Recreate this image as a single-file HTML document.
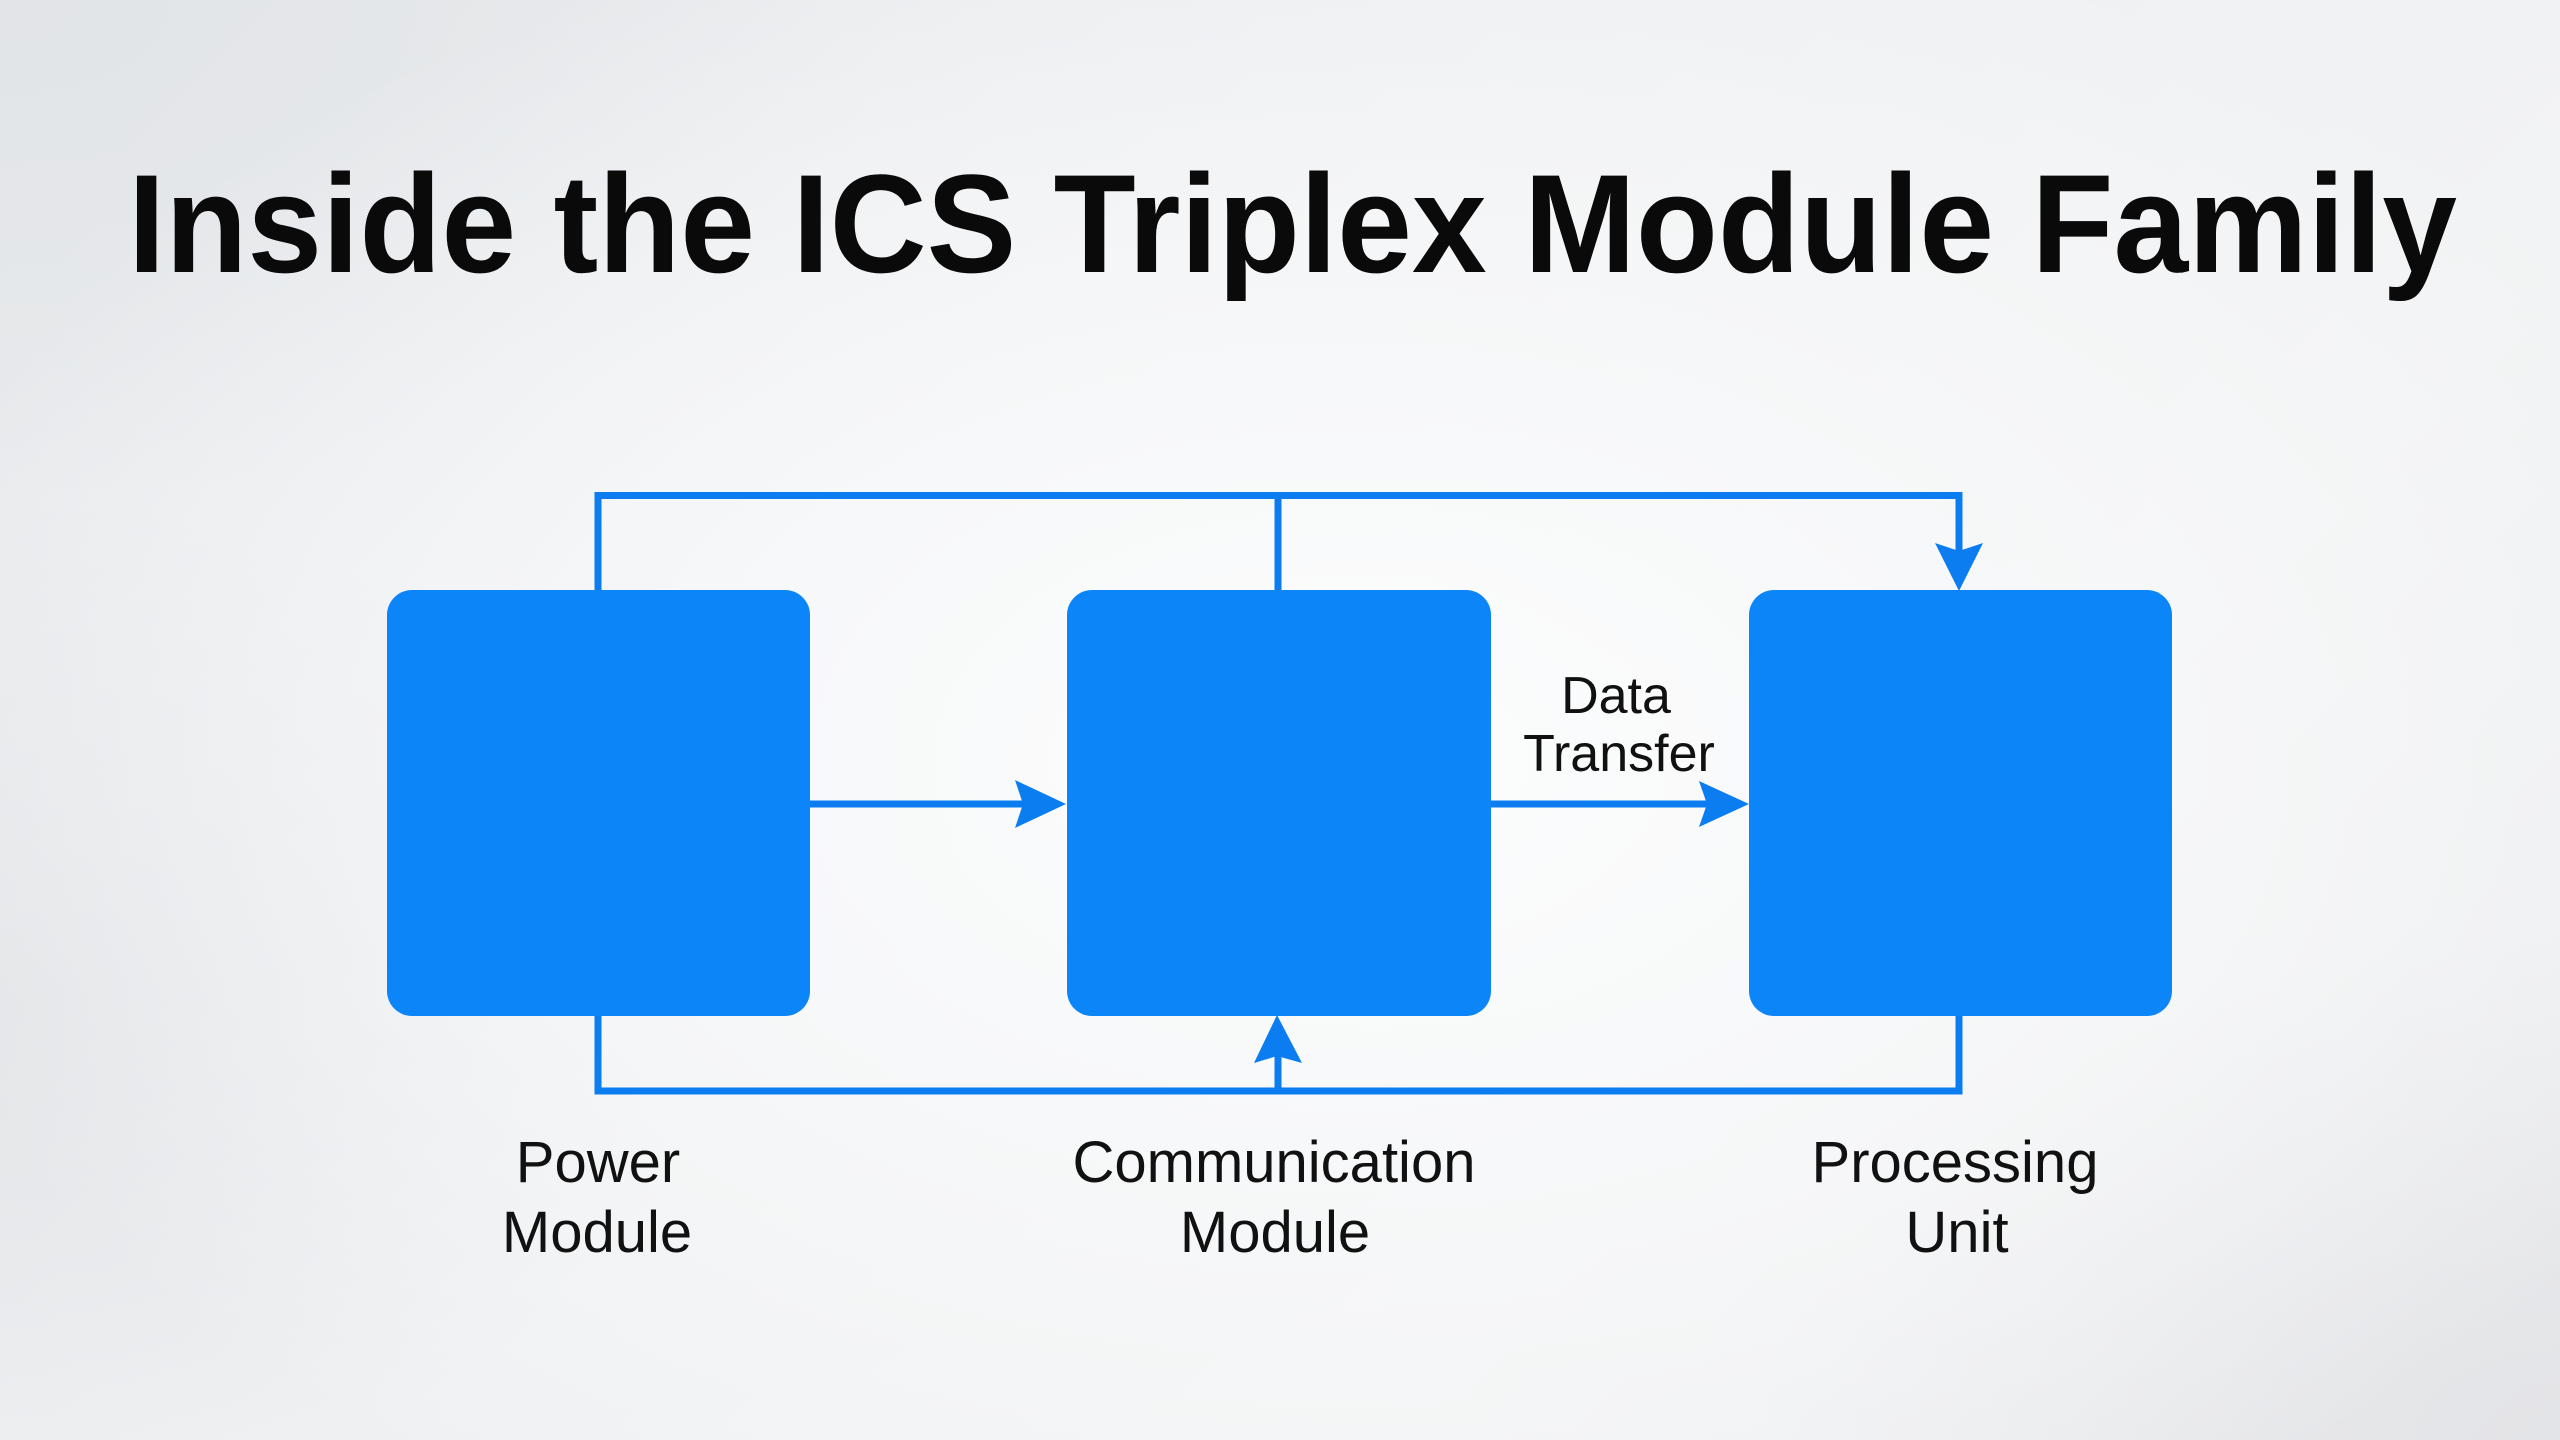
<!DOCTYPE html>
<html>
<head>
<meta charset="utf-8">
<style>
  html, body { margin: 0; padding: 0; }
  body {
    width: 2560px; height: 1440px; overflow: hidden;
    background:
      radial-gradient(ellipse 1500px 900px at 1350px 760px, rgba(252,253,253,1) 0%, rgba(248,249,250,0.85) 45%, rgba(248,249,250,0) 100%),
      radial-gradient(ellipse 700px 500px at 0px 1000px, rgba(226,228,231,0.9) 0%, rgba(226,228,231,0) 100%),
      radial-gradient(ellipse 900px 500px at 0px 0px, rgba(225,228,231,0.9) 0%, rgba(225,228,231,0) 100%),
      radial-gradient(ellipse 800px 500px at 2560px 1440px, rgba(226,227,230,0.9) 0%, rgba(226,227,230,0) 100%),
      linear-gradient(135deg, #e6e8eb 0%, #eef0f2 40%, #f2f3f4 70%, #eaebed 100%);
  }
  svg { display: block; }
</style>
</head>
<body>
<svg width="2560" height="1440" viewBox="0 0 2560 1440" xmlns="http://www.w3.org/2000/svg">
  <!-- Title -->
  <text x="128" y="272" font-family="Liberation Sans, Arial, sans-serif" font-weight="bold" font-size="140" fill="#0a0a0a" textLength="2329" lengthAdjust="spacingAndGlyphs">Inside the ICS Triplex Module Family</text>

  <!-- Connector lines -->
  <g fill="none" stroke="#0b7df1" stroke-width="7" stroke-linejoin="miter" stroke-linecap="butt">
    <path d="M598,592 V495.5 H1959 V570"/>
    <path d="M1278,495.5 V592"/>
    <path d="M598,1014 V1091 H1959 V1014"/>
    <path d="M1278,1091 V1035"/>
    <path d="M809,804 H1040"/>
    <path d="M1490,804 H1725"/>
  </g>

  <!-- Boxes -->
  <g fill="#0b85f7">
    <rect x="387" y="590" width="423" height="426" rx="25" ry="25"/>
    <rect x="1067" y="590" width="424" height="426" rx="25" ry="25"/>
    <rect x="1749" y="590" width="423" height="426" rx="25" ry="25"/>
  </g>

  <!-- Arrowheads -->
  <g fill="#0b7df1">
    <polygon points="1066,804 1015,780 1023,804 1015,828"/>
    <polygon points="1749,804 1699,781 1707,804 1699,827"/>
    <polygon points="1959,591 1935,543 1959,551 1983,543"/>
    <polygon points="1277,1015 1254,1063 1277,1056 1302,1063"/>
  </g>

  <!-- Labels -->
  <g font-family="Liberation Sans, Arial, sans-serif" fill="#111111" text-anchor="middle">
    <text x="1616" y="713" font-size="52">Data</text>
    <text x="1619" y="771" font-size="52">Transfer</text>

    <text x="598" y="1182" font-size="58">Power</text>
    <text x="597" y="1252" font-size="58">Module</text>

    <text x="1274" y="1182" font-size="58">Communication</text>
    <text x="1275" y="1252" font-size="58">Module</text>

    <text x="1955" y="1182" font-size="58">Processing</text>
    <text x="1957" y="1252" font-size="58">Unit</text>
  </g>
</svg>
</body>
</html>
